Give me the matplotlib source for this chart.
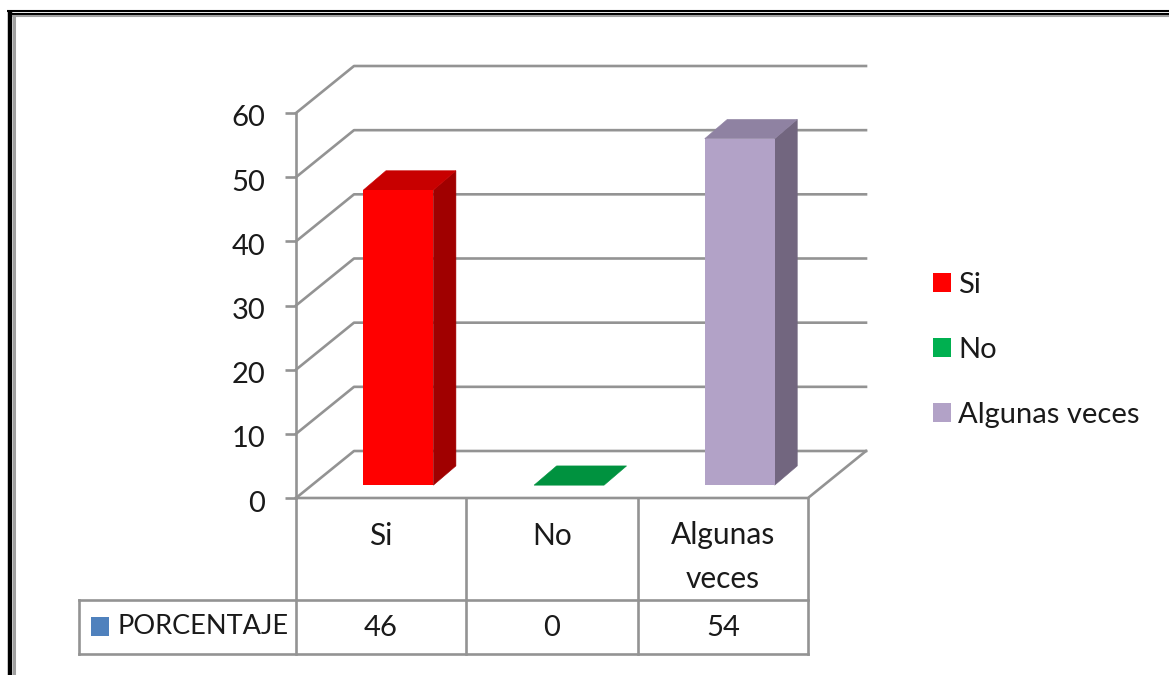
import matplotlib
matplotlib.use('Agg')
import matplotlib.pyplot as plt
from matplotlib.patches import Polygon, Rectangle
from matplotlib.transforms import ScaledTranslation

plt.rcParams['font.family'] = ['Lato', 'DejaVu Sans']

categories = ['Si', 'No', 'Algunas veces']
table_labels = ['Si', 'No', 'Algunas\nveces']
values = [46, 0, 54]
yticks = [0, 10, 20, 30, 40, 50, 60]
series_name = 'PORCENTAJE'
front_colors = ['#FF0000', '#00B050', '#B2A2C7']
side_colors = ['#A00000', '#007A38', '#72667F']
top_colors = ['#C80000', '#00923F', '#8F82A2']

W, H = 1169, 675
GRAY = '#939393'
TEXT = '#1a1a1a'
LW = 1.9

fig = plt.figure(figsize=(W / 100, H / 100), dpi=100, facecolor='white')

# pixel layer for frame and table
bg = fig.add_axes([0, 0, 1, 1])
bg.set_xlim(0, W)
bg.set_ylim(H, 0)
bg.axis('off')

# frame, only top and left show up in the picture
bg.plot([9.5, 9.5], [H, 10], color='black', lw=3.2, solid_capstyle='butt')
bg.plot([7, W], [11, 11], color='black', lw=1.5, solid_capstyle='butt')
bg.plot([11, W], [14, 14], color='black', lw=1.5, solid_capstyle='butt')
bg.plot([12, W], [16.2, 16.2], color='#a0a0a0', lw=1.5, solid_capstyle='butt')
bg.plot([13.5, 13.5], [H, 15.5], color='#a0a0a0', lw=2.2, solid_capstyle='butt')

# chart axes, 0-60 sits on the wall front edge
ax = fig.add_axes([296 / W, 1 - 498 / H, 512 / W, 385 / H])
ax.set_xlim(0, 3)
ax.set_ylim(0, 60)
ax.patch.set_alpha(0)
for s in ['top', 'right', 'bottom']:
    ax.spines[s].set_visible(False)
ax.spines['left'].set_color(GRAY)
ax.spines['left'].set_linewidth(LW)
ax.set_xticks([])
ax.set_yticks(yticks)
ax.tick_params(axis='y', length=8, width=LW, color=GRAY, pad=14, labelsize=21, labelcolor=TEXT)
shift_down = ScaledTranslation(0, -3 / 100, fig.dpi_scale_trans)
for lab in ax.get_yticklabels():
    lab.set_transform(lab.get_transform() + shift_down)

# 3d offsets in data units
DX = 58 / (512 / 3)
DY = 47 / (385 / 60)

for y in yticks:
    ax.plot([0, DX, 3 + DX], [y, y + DY, y + DY], color=GRAY, lw=LW, clip_on=False, zorder=1)
ax.plot([0, 3, 3 + DX], [0, 0, DY], color=GRAY, lw=LW, clip_on=False, zorder=1)

# bars stand in the middle of the depth
bar_w = 0.41
off_x = 0.1
off_y = 2.0
bar_dx = 0.132
bar_dy = 3.0
for i, v in enumerate(values):
    x0 = i + 0.5 - bar_w / 2 + off_x
    x1 = x0 + bar_w
    y0 = off_y
    y1 = off_y + v
    if v > 0:
        ax.bar(x0, v, bar_w, bottom=y0, align='edge', color=front_colors[i], zorder=4, clip_on=False)
        ax.add_patch(Polygon([(x1, y0), (x1 + bar_dx, y0 + bar_dy), (x1 + bar_dx, y1 + bar_dy), (x1, y1)],
                             facecolor=side_colors[i], edgecolor=side_colors[i], lw=0.4, zorder=3, clip_on=False))
    ax.add_patch(Polygon([(x0, y1), (x1, y1), (x1 + bar_dx, y1 + bar_dy), (x0 + bar_dx, y1 + bar_dy)],
                         facecolor=top_colors[i], edgecolor=top_colors[i], lw=0.4, zorder=3, clip_on=False))

# data table under the chart
col_x = [296, 466, 638, 808]
for x in col_x:
    bg.plot([x, x], [498, 654], color=GRAY, lw=LW)
bg.plot([79, 808], [600, 600], color=GRAY, lw=LW)
bg.plot([79, 808], [654, 654], color=GRAY, lw=LW)
bg.plot([79, 79], [600, 654], color=GRAY, lw=LW)
for i, lab in enumerate(table_labels):
    xc = (col_x[i] + col_x[i + 1]) / 2
    bg.text(xc, 557 if '\n' in lab else 536, lab, ha='center', va='center', fontsize=21.5, color=TEXT, linespacing=1.66)
    bg.text(xc, 628, str(values[i]), ha='center', va='center', fontsize=21, color=TEXT)
bg.add_patch(Rectangle((91, 617), 18, 19, facecolor='#4F81BD', edgecolor='none'))
bg.text(118, 626, series_name, ha='left', va='center', fontsize=19.5, color=TEXT)

# legend
handles = [Rectangle((0, 0), 1, 1, facecolor=c, edgecolor='none') for c in front_colors]
leg = fig.legend(handles, categories, loc='upper left', bbox_to_anchor=(933 / W, 1 - 272 / H),
                 frameon=False, fontsize=21, labelcolor=TEXT, handlelength=0.62, handleheight=0.65,
                 handletextpad=0.24, labelspacing=1.33, borderpad=0, borderaxespad=0)

fig.savefig('out.png', dpi=100)
